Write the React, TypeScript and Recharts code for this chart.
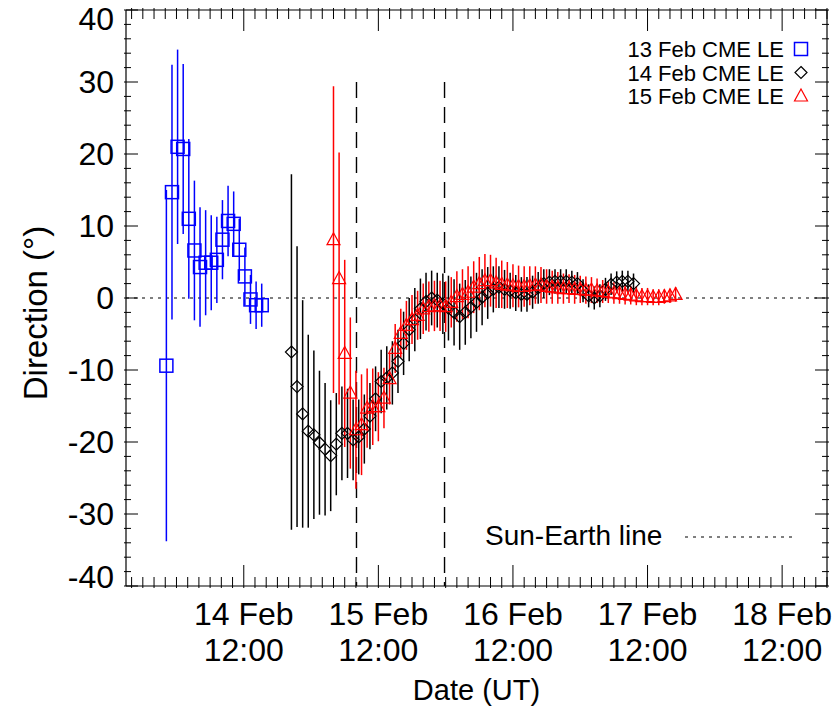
import React from 'react';
import { ComposedChart, Scatter, ErrorBar, XAxis, YAxis, ReferenceLine, Legend } from 'recharts';

const FONT = '"Liberation Sans", Arial, Helvetica, sans-serif';

// times are hours since 13 Feb 00:00 UT, directions in degrees
const blueTimes = [22.2, 23.2, 24.2, 25.2, 26.2, 27.2, 28.2, 29.2, 30.2, 31.2, 32.2, 33.2, 34.2, 35.2, 36.2, 37.2, 38.2, 39.2];
const blueDir = [-9.4, 14.7, 21.0, 20.7, 11.0, 6.6, 4.3, 4.9, 4.9, 5.3, 8.1, 10.7, 10.3, 6.7, 3.0, -0.2, -1.0, -1.0];
const blueErr = [24.4, 17.7, 13.5, 11.8, 11.1, 9.7, 8.3, 7.3, 6.6, 6.0, 5.5, 4.9, 4.5, 4.3, 4.0, 3.4, 3.3, 3.0];

const blackTimes = [
  44.5, 45.5, 46.5, 47.5, 48.5, 49.5, 50.5, 51.5, 52.5, 53.5,
  54.5, 55.5, 56.5, 57.5, 58.5, 59.5, 60.5, 61.5, 62.5, 63.5,
  64.5, 65.5, 66.5, 67.5, 68.5, 69.5, 70.5, 71.5, 72.5, 73.5,
  74.5, 75.5, 76.5, 77.5, 78.5, 79.5, 80.5, 81.5, 82.5, 83.5,
  84.5, 85.5, 86.5, 87.5, 88.5, 89.5, 90.5, 91.5, 92.5, 93.5,
  94.5, 95.5, 96.5, 97.5, 98.5, 99.5, 100.5, 101.5, 102.5, 103.5, 104.5, 105.5,
];
const blackDir = [
  -7.5, -12.3, -16.1, -18.5, -19.0, -20.1, -21.0, -21.9, -20.3, -18.8,
  -18.8, -19.7, -19.3, -18.2, -16.4, -14.0, -11.6, -11.1, -10.4, -8.8,
  -6.3, -4.4, -3.0, -1.5, -0.5, 0.0, -0.3, -0.8, -1.4, -2.0,
  -2.6, -2.0, -1.3, -0.6, 0.1, 0.7, 1.2, 1.5, 1.2, 1.0,
  0.7, 0.5, 0.5, 0.8, 1.4, 2.0, 2.2, 2.3, 2.3, 2.3,
  2.2, 2.0, 1.0, 0.3, 0.0, 0.3, 1.2, 1.9, 2.2, 2.3, 2.3, 2.0,
];
const blackErr = [
  24.7, 19.5, 15.8, 13.4, 11.7, 10.0, 9.2, 7.7, 7.1, 6.5,
  6.2, 5.6, 5.2, 4.8, 4.6, 4.5, 4.4, 4.4, 4.4, 4.4,
  4.4, 4.4, 4.4, 4.2, 4.0, 3.8, 3.8, 4.2, 4.5, 4.6,
  4.6, 4.5, 4.3, 4.1, 3.9, 3.6, 3.2, 2.9, 2.7, 2.5,
  2.5, 2.4, 2.4, 2.3, 2.2, 2.0, 1.8, 1.7, 1.7, 1.7,
  1.6, 1.6, 1.6, 1.6, 1.6, 1.6, 1.6, 1.5, 1.5, 1.5, 1.5, 1.4,
];

const redTimes = [
  52, 53, 54, 55, 56, 57, 58, 59, 60, 61,
  62, 63, 64, 65, 66, 67, 68, 69, 70, 71,
  72, 73, 74, 75, 76, 77, 78, 79, 80, 81,
  82, 83, 84, 85, 86, 87, 88, 89, 90, 91,
  92, 93, 94, 95, 96, 97, 98, 99, 100, 101,
  102, 103, 104, 105, 106, 107, 108, 109, 110, 111, 112, 113,
];
const redDir = [
  8.1, 2.7, -7.7, -13.2, -18.3, -17.6, -15.3, -15.1, -15.1, -13.9,
  -11.2, -7.0, -4.9, -3.8, -3.0, -2.4, -1.5, -1.2, -1.1, -1.1,
  -1.2, -0.6, 0.2, 0.5, 0.8, 1.5, 2.0, 2.4, 2.4, 2.1,
  1.9, 1.8, 1.7, 1.6, 1.6, 1.7, 1.8, 1.8, 1.6, 1.5,
  1.4, 1.3, 1.3, 1.2, 1.2, 1.1, 1.1, 1.0, 0.9, 0.8,
  0.7, 0.6, 0.5, 0.4, 0.3, 0.2, 0.2, 0.1, 0.1, 0.2, 0.3, 0.5,
];
const redErr = [
  21.3, 17.5, 13.0, 10.5, 8.2, 7.0, 5.5, 5.3, 4.8, 4.2, 3.6, 3.4,
  3.4, 3.4, 3.4, 3.4, 3.5, 3.5, 3.5, 3.5, 3.5, 3.5, 3.5, 3.5,
  3.6, 3.6, 3.7, 3.7, 3.6, 3.5, 3.3, 3.2, 3.0, 2.9, 2.8, 2.7,
  2.6, 2.5, 2.4, 2.3, 2.2, 2.1, 2.0, 2.0, 1.9, 1.9, 1.8, 1.7,
  1.6, 1.5, 1.5, 1.4, 1.4, 1.3, 1.3, 1.2, 1.2, 1.1, 1.1, 1.0, 1.0, 1.0,
];

const seriesNames = ['13 Feb CME LE', '14 Feb CME LE', '15 Feb CME LE'];
const seriesColors = ['#0000ff', '#000000', '#ff0000'];

const dayTicks = [36, 60, 84, 108, 132];
const dayLabels = ['14 Feb', '15 Feb', '16 Feb', '17 Feb', '18 Feb'];
const timeLabel = '12:00';
const dirLabels = [-40, -30, -20, -10, 0, 10, 20, 30, 40];
const eventTimes = [56.1, 71.8];

const X_DOMAIN = [15, 140];
const Y_DOMAIN = [-40, 40];
// minor ticks every 2 hours / every 2 degrees
const xTicks = Array.from({ length: 63 }, (_, i) => 16 + 2 * i);
const yTicks = Array.from({ length: 41 }, (_, i) => -40 + 2 * i);

const toPoints = (times: number[], dirs: number[], errs: number[]) =>
  times.map((t, i) => ({ t, d: dirs[i], err: errs[i] }));

const bluePts = toPoints(blueTimes, blueDir, blueErr);
const blackPts = toPoints(blackTimes, blackDir, blackErr);
const redPts = toPoints(redTimes, redDir, redErr);

const Square = (p: any) => (
  <rect x={p.cx - 6.5} y={p.cy - 6.5} width={13} height={13} fill="none" stroke="#0000ff" strokeWidth={1.5} />
);
const Diamond = (p: any) => (
  <path d={`M${p.cx},${p.cy - 6}L${p.cx + 6},${p.cy}L${p.cx},${p.cy + 6}L${p.cx - 6},${p.cy}Z`} fill="none" stroke="#000" strokeWidth={1.2} />
);
const Triangle = (p: any) => (
  <path d={`M${p.cx},${p.cy - 7}L${p.cx + 6.5},${p.cy + 5}L${p.cx - 6.5},${p.cy + 5}Z`} fill="none" stroke="#ff0000" strokeWidth={1.2} />
);
const markers = [Square, Diamond, Triangle];

function BottomTick(props: any) {
  const { x, y, payload } = props;
  const k = dayTicks.indexOf(payload.value);
  return (
    <g>
      <line x1={x} x2={x} y1={y} y2={y - (k >= 0 ? 23 : 11)} stroke="#000" strokeWidth={1} />
      {k >= 0 && (
        <text x={x} y={y + 37} textAnchor="middle" fontSize={32} fontFamily={FONT} fill="#000">
          <tspan x={x}>{dayLabels[k]}</tspan>
          <tspan x={x} dy={36}>{timeLabel}</tspan>
        </text>
      )}
    </g>
  );
}

function TopTick(props: any) {
  const { x, y, payload } = props;
  const major = dayTicks.includes(payload.value);
  return <line x1={x} x2={x} y1={y} y2={y + (major ? 23 : 11)} stroke="#000" strokeWidth={1} />;
}

function LeftTick(props: any) {
  const { x, y, payload } = props;
  const v = payload.value;
  const major = dirLabels.includes(v);
  const shift = v === 40 ? 9 : v === -40 ? -9 : 0;
  return (
    <g>
      <line x1={x} x2={x + (major ? 14 : 7)} y1={y} y2={y} stroke="#000" strokeWidth={1} />
      {major && (
        <text x={x - 10} y={y + 11 + shift} textAnchor="end" fontSize={32} fontFamily={FONT} fill="#000">
          {v}
        </text>
      )}
    </g>
  );
}

function RightTick(props: any) {
  const { x, y, payload } = props;
  const major = dirLabels.includes(payload.value);
  return <line x1={x} x2={x - (major ? 14 : 7)} y1={y} y2={y} stroke="#000" strokeWidth={1} />;
}

function Keys() {
  return (
    <svg width={839} height={719} style={{ position: 'absolute', left: 0, top: 0 }}>
      {seriesNames.map((name, i) => {
        const Mark = markers[i];
        const cy = 49 + i * 23.5;
        return (
          <g key={name}>
            <text x={784} y={cy + 8} textAnchor="end" fontSize={22} fontFamily={FONT} fill="#000">
              {name}
            </text>
            <Mark cx={801} cy={cy} />
          </g>
        );
      })}
      <text x={485} y={545} fontSize={28} fontFamily={FONT} fill="#000">
        Sun-Earth line
      </text>
      <line x1={685} x2={792} y1={537} y2={537} stroke="#000" strokeWidth={1.2} strokeDasharray="3 5" />
    </svg>
  );
}

export default function App() {
  return (
    <div style={{ position: 'absolute', left: 0, top: 0, background: '#fff' }}>
      <ComposedChart width={839} height={719} margin={{ top: 0, right: 0, bottom: 0, left: 0 }}>
        <XAxis
          dataKey="t"
          type="number"
          domain={X_DOMAIN}
          allowDataOverflow
          ticks={xTicks}
          interval={0}
          height={133}
          tickSize={0}
          tickLine={false}
          tick={<BottomTick />}
          axisLine={{ stroke: '#000', strokeWidth: 1.2 }}
          label={(p: any) => (
            <text x={p.viewBox.x + p.viewBox.width / 2} y={p.viewBox.y + 114} textAnchor="middle" fontSize={29} fontFamily={FONT} fill="#000">
              Date (UT)
            </text>
          )}
        />
        <XAxis
          xAxisId="top"
          orientation="top"
          dataKey="t"
          type="number"
          domain={X_DOMAIN}
          allowDataOverflow
          ticks={xTicks}
          interval={0}
          height={10}
          tickSize={0}
          tickLine={false}
          tick={<TopTick />}
          axisLine={{ stroke: '#000', strokeWidth: 1.2 }}
        />
        <YAxis
          dataKey="d"
          type="number"
          domain={Y_DOMAIN}
          allowDataOverflow
          ticks={yTicks}
          interval={0}
          width={126}
          tickSize={0}
          tickLine={false}
          tick={<LeftTick />}
          axisLine={{ stroke: '#000', strokeWidth: 1.2 }}
          label={(p: any) => {
            const cx = p.viewBox.x + 47;
            const cy = p.viewBox.y + p.viewBox.height / 2 + 15;
            return (
              <text x={cx} y={cy} transform={`rotate(-90, ${cx}, ${cy})`} textAnchor="middle" fontSize={33} fontFamily={FONT} fill="#000">
                Direction (°)
              </text>
            );
          }}
        />
        <YAxis
          yAxisId="right"
          orientation="right"
          type="number"
          domain={Y_DOMAIN}
          allowDataOverflow
          ticks={yTicks}
          interval={0}
          width={12}
          tickSize={0}
          tickLine={false}
          tick={<RightTick />}
          axisLine={{ stroke: '#000', strokeWidth: 1.2 }}
        />
        <ReferenceLine y={0} stroke="#000" strokeWidth={1.2} strokeDasharray="3 5" />
        {eventTimes.map((t) => (
          <ReferenceLine
            key={t}
            segment={[{ x: t, y: 30 }, { x: t, y: -40 }]}
            stroke="#000"
            strokeWidth={1.4}
            strokeDasharray="16 9"
          />
        ))}
        <Scatter name={seriesNames[0]} data={bluePts} dataKey="d" shape={Square} isAnimationActive={false}>
          <ErrorBar dataKey="err" direction="y" width={0} stroke={seriesColors[0]} strokeWidth={1.5} isAnimationActive={false} />
        </Scatter>
        <Scatter name={seriesNames[1]} data={blackPts} dataKey="d" shape={Diamond} isAnimationActive={false}>
          <ErrorBar dataKey="err" direction="y" width={0} stroke={seriesColors[1]} strokeWidth={1.5} isAnimationActive={false} />
        </Scatter>
        <Scatter name={seriesNames[2]} data={redPts} dataKey="d" shape={Triangle} isAnimationActive={false}>
          <ErrorBar dataKey="err" direction="y" width={0} stroke={seriesColors[2]} strokeWidth={1.5} isAnimationActive={false} />
        </Scatter>
        <Legend
          layout="vertical"
          align="center"
          verticalAlign="middle"
          wrapperStyle={{ left: 0, top: 0, width: 839, height: 719, pointerEvents: 'none' }}
          content={() => <Keys />}
        />
      </ComposedChart>
    </div>
  );
}
